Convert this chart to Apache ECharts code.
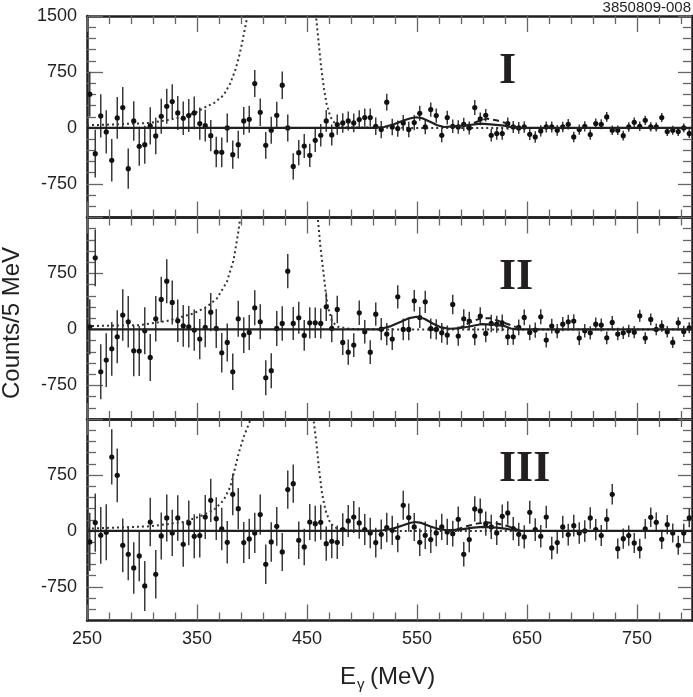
<!DOCTYPE html>
<html><head><meta charset="utf-8">
<script src="https://cdn.jsdelivr.net/npm/echarts@6/dist/echarts.min.js"></script>
<style>html,body{margin:0;padding:0;background:#fff}#c{width:693px;height:697px}</style>
</head><body><div id="c"></div>
<script>
// ---- bin centres (MeV) ----
const energies = [
252.5,257.5,262.5,267.5,272.5,277.5,282.5,287.5,292.5,297.5,
302.5,307.5,312.5,317.5,322.5,327.5,332.5,337.5,342.5,347.5,
352.5,357.5,362.5,367.5,372.5,377.5,382.5,387.5,392.5,397.5,
402.5,407.5,412.5,417.5,422.5,427.5,432.5,437.5,442.5,447.5,
452.5,457.5,462.5,467.5,472.5,477.5,482.5,487.5,492.5,497.5,
502.5,507.5,512.5,517.5,522.5,527.5,532.5,537.5,542.5,547.5,
552.5,557.5,562.5,567.5,572.5,577.5,582.5,587.5,592.5,597.5,
602.5,607.5,612.5,617.5,622.5,627.5,632.5,637.5,642.5,647.5,
652.5,657.5,662.5,667.5,672.5,677.5,682.5,687.5,692.5,697.5,
702.5,707.5,712.5,717.5,722.5,727.5,732.5,737.5,742.5,747.5,
752.5,757.5,762.5,767.5,772.5,777.5,782.5,787.5,792.5,797.5];

// ---- panel I ----
const countsI = [
452,-345,161,-54,-434,134,273,-546,94,-246,
-224,27,-107,157,291,354,201,130,166,201,
58,31,-103,-322,-327,0,-358,-224,94,116,
595,210,-233,-31,170,573,0,-515,-331,-242,
-367,-166,-98,94,-94,45,67,94,67,112,
139,139,22,-22,345,13,-9,67,-22,72,
197,13,246,166,-98,139,22,13,49,0,
273,121,170,-98,-76,-76,58,13,0,13,
-85,-121,-40,13,13,-31,13,49,-121,-22,
22,-89,58,49,148,-31,-31,-103,13,76,
22,103,13,13,139,-49,-31,-49,0,-76];
const errI = [
300,320,290,290,285,280,275,270,265,262,
255,250,245,235,235,230,228,225,222,220,
215,213,210,205,200,195,190,185,185,180,
180,185,180,180,180,185,180,175,170,160,
155,155,150,145,140,135,130,128,125,125,
122,120,118,115,112,110,108,106,104,102,
100,98,96,95,94,92,91,90,89,88,
100,86,85,84,83,82,81,80,79,78,
77,76,75,74,73,72,71,70,70,69,
68,68,67,67,66,65,65,64,64,63,
63,62,62,61,61,60,60,60,59,59];
const dotLeftI = [[250,36],[270,45],[292,58],[307,67],[322,103],[337,148],[350,215],[359,291],[365,327],[374.2,439],[380.2,595],[384.8,774],[387.8,931],[390.9,1132],[393.9,1356],[396,1513],[397,1600]];
const dotRightI = [[457.5,1600],[458.2,1490],[460.7,1132],[462.8,819],[465.2,550],[467.7,327],[471.3,148],[475.9,49],[480.4,13],[500,5],[550,0],[800,0]];
const fitI = [[250,0],[510,0],[520,13],[529,49],[538.3,103],[544.3,130],[549.4,143],[554.8,130],[562.4,80],[568.5,36],[574.6,13],[583.7,22],[595.8,36],[607.9,57],[617,49],[629.2,31],[638,5],[645,0],[800,0]];
const dashI = [[584,22],[592.8,25],[598.8,49],[607.9,103],[614,125],[623,100],[632,60],[638,18],[645,0]];

// ---- panel II ----
const countsII = [
35,960,-567,-411,-259,-98,192,103,-286,-290,
-18,-375,143,402,647,362,116,49,36,-9,
-129,27,232,13,-312,-174,-567,143,-76,-40,
290,103,-647,-553,13,80,781,80,156,-80,
89,89,80,304,13,268,-174,-304,-210,223,
-31,-304,205,4,-62,-129,437,0,0,384,
160,370,10,0,-45,-76,335,-89,143,112,
-89,178,-54,80,71,89,-98,-98,27,161,
-40,-9,170,-143,45,-22,71,103,112,-116,
-18,-45,71,58,-112,94,-62,-45,-18,-36,
183,-116,134,0,45,-31,-174,89,-27,22];
const errII = [
370,380,370,360,360,355,345,345,340,335,
315,315,305,305,295,295,285,280,278,275,
270,265,255,262,265,255,245,240,240,235,
235,235,235,235,235,230,230,220,215,205,
210,205,200,190,185,185,170,168,160,165,
158,160,155,150,150,148,155,145,145,145,
140,148,135,135,132,130,130,128,126,124,
122,120,118,116,114,112,110,108,106,105,
104,102,100,99,98,96,95,94,93,92,
90,89,88,87,86,85,84,83,82,81,
80,79,78,78,77,76,76,75,75,74];
const dotLeftII = [[250,45],[298,58],[322.6,112],[346.8,214],[359,304],[368.1,415],[377.2,638],[383.3,929],[387.8,1330],[389.3,1500],[390,1600]];
const dotRightII = [[459.5,1600],[460,1464],[462.2,1107],[464.7,795],[466.8,527],[468.9,304],[472.9,103],[478,36],[490,5],[520,0],[800,0]];
const fitII = [[250,0],[515,0],[526.3,45],[535.4,103],[543,152],[549.7,170],[556.7,143],[564.3,80],[571.9,27],[579.5,9],[587.1,13],[596.2,36],[608.3,70],[620.5,65],[629.6,45],[635.2,13],[641.2,0],[800,0]];
const dashII = [[587,13],[590,30],[599.2,103],[608.3,150],[617.4,150],[626,105],[635,58],[641,27],[647,0]];

// ---- panel III ----
const countsIII = [
-147,112,-58,-18,991,745,-192,-312,-496,-335,
-737,120,-580,-67,174,-27,174,-179,107,-71,
-62,187,411,165,27,-152,491,299,-156,-107,
-27,219,-446,-147,62,-281,554,634,-125,-214,
120,98,116,-170,-138,-152,18,134,187,107,
18,-27,-156,-45,45,9,-89,344,179,54,
-152,-58,-116,-27,54,-13,-36,156,-312,-116,
295,268,98,54,-27,196,241,31,-45,-80,
250,18,-71,187,-228,-156,54,-49,71,-27,
0,174,18,-62,156,491,-237,-103,-62,-161,
-237,27,183,116,-112,85,-27,-192,-27,174];
const errIII = [
390,390,380,375,370,360,360,350,345,340,
335,325,325,315,315,310,305,300,300,295,
295,295,290,285,285,285,280,275,275,270,
270,270,265,265,260,255,255,255,250,245,
240,240,235,230,228,225,220,215,215,210,
208,205,200,200,198,196,195,195,190,188,
185,183,180,178,176,175,173,170,165,168,
170,166,164,162,160,160,158,157,156,155,
155,153,152,152,150,150,148,147,146,145,
144,143,142,141,140,138,137,136,135,134,
133,132,131,130,129,128,127,126,125,124];
const dotLeftIII = [[250,31],[307.4,62],[337.8,120],[352.9,196],[365,277],[374.2,411],[380.2,589],[383.3,768],[387.8,1036],[392.4,1259],[398.4,1482],[399,1600]];
const dotRightIII = [[455.5,1600],[456,1482],[458.6,1170],[460.7,857],[463.7,500],[466.8,277],[471.3,98],[477.4,31],[490,5],[520,0],[800,0]];
const fitIII = [[250,0],[515,0],[519.2,9],[528.3,31],[537.4,76],[543.5,107],[548,120],[554.1,107],[561.7,62],[569.3,27],[576.9,9],[589,18],[601.2,45],[610.3,54],[622.4,45],[631.5,27],[638,9],[644,0],[800,0]];
const dashIII = [[586,20],[595,62],[604.2,98],[613.3,116],[622.4,100],[631.5,70],[638,35],[645,0]];

// ---- axis ticks / labels ----
const xMajorTicks = [250,350,450,550,650,750];
const xMinorTicks = [270,290,310,330,370,390,410,430,470,490,510,530,570,590,610,630,670,690,710,730,770,790];
const yMajorTicks = [-750,0,750,1500];
const yMinorTicks = [-1050,-900,-600,-450,-300,-150,150,300,450,600,900,1050,1200,1350];
const yLabelsTop = [-750,0,750,1500];
const yLabelsOther = [-750,0,750];
const panelNames = ['I','II','III'];

const panels = [
  {vals: countsI, errs: errI, dotL: dotLeftI, dotR: dotRightI, fit: fitI, dash: dashI, ylab: yLabelsTop},
  {vals: countsII, errs: errII, dotL: dotLeftII, dotR: dotRightII, fit: fitII, dash: dashII, ylab: yLabelsOther},
  {vals: countsIII, errs: errIII, dotL: dotLeftIII, dotR: dotRightIII, fit: fitIII, dash: dashIII, ylab: yLabelsOther}
];

const gridTops = [16, 217.5, 419];
const gridH = 201.5;
const FONT = 'Liberation Sans';
const INK = '#231f20';

const grids = gridTops.map(t => ({left: 87, right: 1, top: t, height: gridH}));
const xAxes = [], yAxes = [], series = [];
panels.forEach((pn, p) => {
  [['bottom', true], ['bottom', false], ['top', true], ['top', false]].forEach(([pos, major]) => {
    xAxes.push({
      gridIndex: p, type: 'value', min: 250, max: 800, position: pos,
      axisLine: {show: major, onZero: false, lineStyle: {color: INK, width: 2.5}},
      axisTick: {show: true, inside: true, length: major ? 16 : 8, customValues: major ? xMajorTicks : xMinorTicks,
                 lineStyle: {color: '#666', width: 1.3}},
      axisLabel: {show: major && pos === 'bottom' && p === 2, customValues: xMajorTicks, margin: 10,
                  fontSize: 18, fontFamily: FONT, color: INK, formatter: v => String(v)},
      splitLine: {show: false}
    });
  });
  [['left', true], ['left', false], ['right', true], ['right', false]].forEach(([pos, major]) => {
    yAxes.push({
      gridIndex: p, type: 'value', min: -1200, max: 1500, position: pos,
      axisLine: {show: major, onZero: false, lineStyle: {color: INK, width: 2.5}},
      axisTick: {show: true, inside: true, length: major ? (pos === 'left' ? 16 : 14) : 9,
                 customValues: major ? yMajorTicks : yMinorTicks, lineStyle: {color: '#666', width: 1.3}},
      axisLabel: {show: major && pos === 'left', customValues: pn.ylab, margin: 10,
                  fontSize: 18, fontFamily: FONT, color: INK, formatter: v => String(v)},
      splitLine: {show: false}
    });
  });
  const xi = p * 4, yi = p * 4;
  const lineBase = {type: 'line', xAxisIndex: xi, yAxisIndex: yi, showSymbol: false, symbol: 'none',
                    silent: true, clip: true, animation: false};
  series.push(Object.assign({}, lineBase, {data: pn.dotL, z: 3, lineStyle: {color: '#333', width: 2, type: [2, 3]}}));
  series.push(Object.assign({}, lineBase, {data: pn.dotR, z: 3, lineStyle: {color: '#333', width: 2, type: [2, 3]}}));
  series.push({
    type: 'custom', xAxisIndex: xi, yAxisIndex: yi, clip: true, z: 4, animation: false,
    data: energies.map((e, i) => [e, pn.vals[i], pn.errs[i]]),
    renderItem: (params, api) => {
      const x = api.value(0), y = api.value(1), er = api.value(2);
      const a = api.coord([x, y + er]), b = api.coord([x, y - er]), c = api.coord([x, y]);
      return {type: 'group', children: [
        {type: 'line', shape: {x1: a[0], y1: a[1], x2: b[0], y2: b[1]}, style: {stroke: '#3a3a3a', lineWidth: 1.5}},
        {type: 'circle', shape: {cx: c[0], cy: c[1], r: 2.6}, style: {fill: '#111'}}
      ]};
    }
  });
  series.push(Object.assign({}, lineBase, {data: pn.fit, z: 5, lineStyle: {color: INK, width: 2.2, type: 'solid'}}));
  series.push(Object.assign({}, lineBase, {data: pn.dash, z: 5, lineStyle: {color: INK, width: 2, type: [6, 4]}}));
});

const romanPos = [[499, 72], [499, 278], [499, 470]];
const graphics = [
  {type: 'text', right: 2, top: 0, style: {text: '3850809-008', font: '15px "Liberation Sans"', fill: INK}},
  {type: 'text', x: 12, y: 323, rotation: Math.PI / 2,
   style: {text: 'Counts/5 MeV', font: '24px "Liberation Sans"', fill: INK, textAlign: 'center', textVerticalAlign: 'middle'}},
  {type: 'text', x: 340, y: 677, style: {text: 'E', font: '24px "Liberation Sans"', fill: INK, textAlign: 'left', textVerticalAlign: 'middle'}},
  {type: 'text', x: 357, y: 685, style: {text: 'γ', font: '15px "Liberation Sans"', fill: INK, textAlign: 'left', textVerticalAlign: 'middle'}},
  {type: 'text', x: 370, y: 677, style: {text: '(MeV)', font: '24px "Liberation Sans"', fill: INK, textAlign: 'left', textVerticalAlign: 'middle'}}
];
panelNames.forEach((nm, i) => {
  graphics.push({type: 'text', x: romanPos[i][0], y: romanPos[i][1],
    style: {text: nm, font: 'bold 44px "Liberation Serif"', fill: INK, textAlign: 'left', textVerticalAlign: 'middle'}});
});

const chart = echarts.init(document.getElementById('c'), null, {renderer: 'canvas'});
chart.setOption({
  animation: false,
  backgroundColor: '#fff',
  grid: grids, xAxis: xAxes, yAxis: yAxes, series: series, graphic: graphics
});
</script></body></html>
